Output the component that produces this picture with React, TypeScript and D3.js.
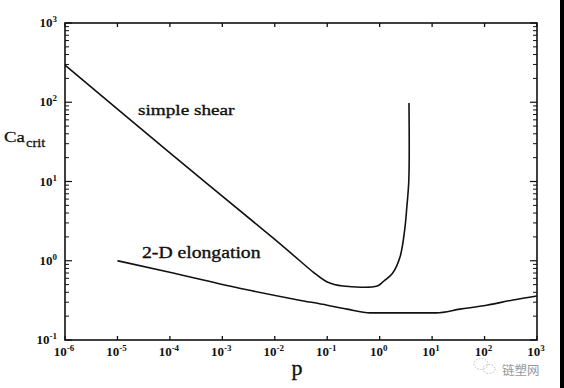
import { useEffect, useRef } from 'react';
import * as d3 from 'd3';

// simple shear curve (p, Ca_crit)
const shearP = [1e-6, 1e-4, 1e-2, 0.03, 0.054, 0.1, 0.2, 0.9, 1.15, 1.8, 2.45, 3.0, 3.3, 3.6, 3.62];
const shearCa = [295, 23, 1.86, 1.0, 0.72, 0.54, 0.48, 0.48, 0.54, 0.71, 1.12, 2.45, 4.8, 10.5, 98];

// 2-D elongation curve
const elongP = [1e-5, 1.15e-4, 2.5e-3, 0.028, 0.1, 0.24, 0.66, 1, 12, 34, 110, 350, 1000];
const elongCa = [1.0, 0.70, 0.44, 0.32, 0.275, 0.245, 0.22, 0.22, 0.22, 0.245, 0.275, 0.32, 0.36];

const xExps = [-6, -5, -4, -3, -2, -1, 0, 1, 2, 3];
const yExps = [-1, 0, 1, 2, 3];

const W = 564;
const H = 388;
const FONT = "'Liberation Serif', 'DejaVu Serif', 'Times New Roman', serif";

export default function App() {
  const svgRef = useRef<SVGSVGElement>(null);

  useEffect(() => {
    if (!svgRef.current) return;
    const svg = d3.select(svgRef.current);
    svg.selectAll('*').remove();

    const left = 65, right = 537, top = 23, bottom = 340;

    const x = d3.scaleLog().domain([1e-6, 1e3]).range([left, right]);
    const y = d3.scaleLog().domain([1e-1, 1e3]).range([bottom, top]);

    svg.append('rect').attr('width', W).attr('height', H).attr('fill', '#fff');
    // dark strip at the right edge of the scan
    svg.append('rect').attr('x', 560).attr('y', 0).attr('width', 4).attr('height', H).attr('fill', '#000');

    const g = svg.append('g').attr('stroke', '#111').attr('fill', 'none');

    // frame
    g.append('rect')
      .attr('x', left).attr('y', top)
      .attr('width', right - left).attr('height', bottom - top)
      .attr('stroke-width', 1.6);

    // x ticks (major only, inward, top and bottom)
    xExps.forEach(e => {
      const px = x(Math.pow(10, e));
      g.append('line').attr('x1', px).attr('x2', px).attr('y1', bottom).attr('y2', bottom - 4).attr('stroke-width', 1.3);
      g.append('line').attr('x1', px).attr('x2', px).attr('y1', top).attr('y2', top + 4).attr('stroke-width', 1.3);
    });

    // y ticks (major + minor, inward, left and right)
    yExps.forEach(e => {
      const base = Math.pow(10, e);
      const py = y(base);
      g.append('line').attr('x1', left).attr('x2', left + 7).attr('y1', py).attr('y2', py).attr('stroke-width', 1.2);
      g.append('line').attr('x1', right).attr('x2', right - 7).attr('y1', py).attr('y2', py).attr('stroke-width', 1.2);
      if (e < 3) {
        d3.range(2, 10).forEach(m => {
          const pm = y(base * m);
          g.append('line').attr('x1', left).attr('x2', left + 4).attr('y1', pm).attr('y2', pm).attr('stroke-width', 1);
          g.append('line').attr('x1', right).attr('x2', right - 4).attr('y1', pm).attr('y2', pm).attr('stroke-width', 1);
        });
      }
    });

    const line = d3.line<[number, number]>()
      .x(d => x(d[0]))
      .y(d => y(d[1]))
      .curve(d3.curveMonotoneX);

    const lineShear = d3.line<[number, number]>()
      .x(d => x(d[0]))
      .y(d => y(d[1]))
      .curve(d3.curveCatmullRom.alpha(0.5));

    g.append('path')
      .attr('d', lineShear(shearP.map((p, i) => [p, shearCa[i]] as [number, number])))
      .attr('stroke-width', 1.6);

    g.append('path')
      .attr('d', line(elongP.map((p, i) => [p, elongCa[i]] as [number, number])))
      .attr('stroke-width', 1.6);

    const t = svg.append('g').style('font-family', FONT).attr('fill', '#111');

    // the scan is stretched horizontally, so text gets a small x-scale
    const stretched = (tx: number, ty: number, sx: number) =>
      t.append('text').attr('transform', `translate(${tx},${ty}) scale(${sx},1)`);

    // x tick labels
    xExps.forEach(e => {
      const px = x(Math.pow(10, e));
      const txt = t.append('text')
        .attr('x', px - 1).attr('y', bottom + 16)
        .attr('text-anchor', 'middle')
        .attr('font-size', 13).attr('font-weight', 'bold');
      txt.append('tspan').text('10');
      txt.append('tspan').attr('dy', -5).attr('font-size', 9).text(e < 0 ? `-${-e}` : `${e}`);
    });

    // y tick labels
    yExps.forEach(e => {
      const py = y(Math.pow(10, e));
      const txt = t.append('text')
        .attr('x', left - 8).attr('y', py + 4)
        .attr('text-anchor', 'end')
        .attr('font-size', 13).attr('font-weight', 'bold');
      txt.append('tspan').text('10');
      txt.append('tspan').attr('dy', -5).attr('font-size', 9).text(e < 0 ? `-${-e}` : `${e}`);
    });

    // axis titles
    stretched(297, 375, 1.1).attr('text-anchor', 'middle')
      .attr('font-size', 20).attr('stroke', '#111').attr('stroke-width', 0.3).text('p');
    const ca = stretched(4, 142, 1.25).attr('font-size', 15).attr('stroke', '#111').attr('stroke-width', 0.25);
    ca.append('tspan').text('Ca');
    ca.append('tspan').attr('dy', 5).attr('dx', 1).attr('font-size', 11.5).text('crit');

    // curve labels
    stretched(138, 115, 1.24).attr('font-size', 15.5)
      .attr('stroke', '#111').attr('stroke-width', 0.35).text('simple shear');
    stretched(142, 258, 1.23).attr('font-size', 16)
      .attr('stroke', '#111').attr('stroke-width', 0.35).text('2-D elongation');

    // watermark
    const wm = svg.append('g').attr('stroke', '#bbb').attr('fill', 'none')
      .attr('stroke-width', 1).attr('stroke-dasharray', '1.5,1.5');
    wm.append('ellipse').attr('cx', 481).attr('cy', 364).attr('rx', 7).attr('ry', 5.5);
    wm.append('ellipse').attr('cx', 489).attr('cy', 369).attr('rx', 6).attr('ry', 4.5);
    svg.append('text').attr('x', 502).attr('y', 375).attr('font-size', 12.5)
      .style('font-family', "'Noto Sans CJK SC', sans-serif").attr('fill', '#999')
      .text('链塑网');
  }, []);

  return (
    <svg
      ref={svgRef}
      width={W}
      height={H}
      style={{ position: 'fixed', left: 0, top: 0, display: 'block' }}
    />
  );
}
